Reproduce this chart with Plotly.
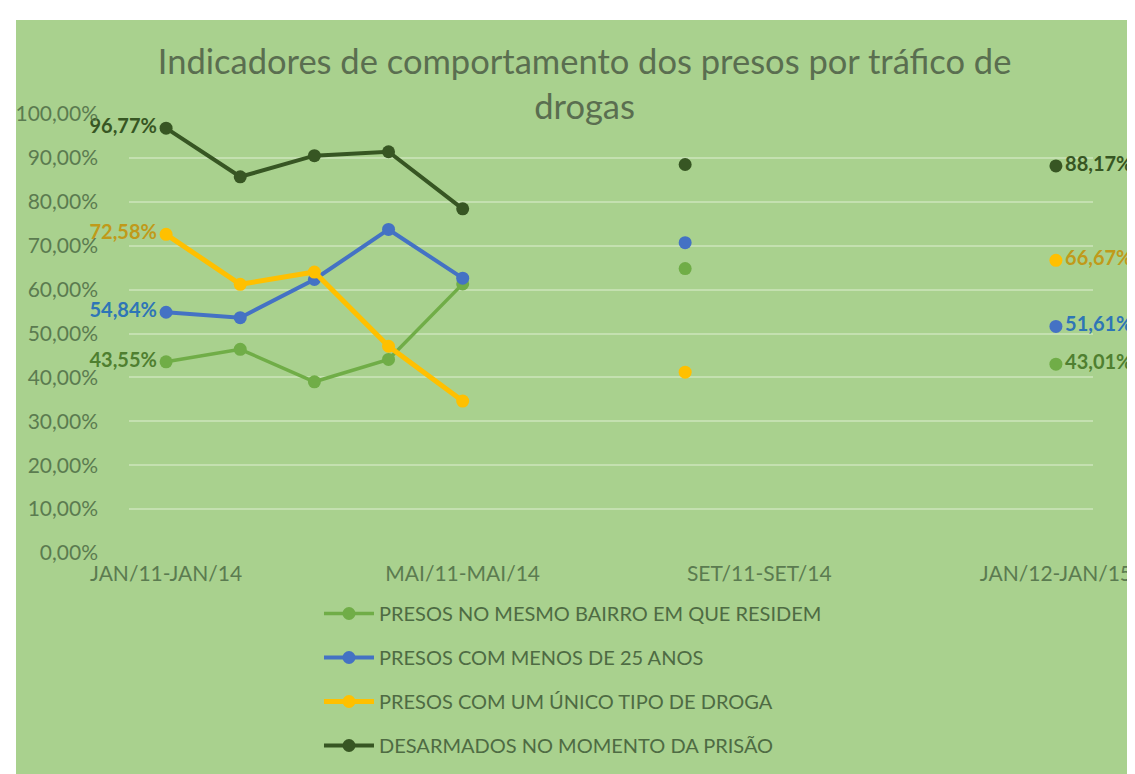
import plotly.graph_objects as go

# ---- data ----
categories = ["JAN/11-JAN/14", "FEV/11-FEV/14", "MAR/11-MAR/14", "ABR/11-ABR/14",
              "MAI/11-MAI/14", "JUN/11-JUN/14", "JUL/11-JUL/14", "AGO/11-AGO/14",
              "SET/11-SET/14", "OUT/11-OUT/14", "NOV/11-NOV/14", "DEZ/11-DEZ/14",
              "JAN/12-JAN/15"]
tick_labels = ["JAN/11-JAN/14", "MAI/11-MAI/14", "SET/11-SET/14", "JAN/12-JAN/15"]

series_names = ["PRESOS NO MESMO BAIRRO EM QUE RESIDEM",
                "PRESOS COM MENOS DE 25 ANOS",
                "PRESOS COM UM ÚNICO TIPO DE DROGA",
                "DESARMADOS NO MOMENTO DA PRISÃO"]

mesmo_bairro = [43.55, 46.4, 39.0, 44.1, 61.3, None, None, 64.8, None, None, None, None, 43.01]
menos_25 = [54.84, 53.6, 62.3, 73.7, 62.6, None, None, 70.7, None, None, None, None, 51.61]
unico_droga = [72.58, 61.2, 64.0, 47.1, 34.6, None, None, 41.2, None, None, None, None, 66.67]
desarmados = [96.77, 85.7, 90.5, 91.4, 78.4, None, None, 88.5, None, None, None, None, 88.17]

# ---- styles ----
line_colors = ["#70AD47", "#4472C4", "#FFC000", "#375623"]
label_colors = ["#4F7F30", "#2E75B6", "#C09A1A", "#375623"]
line_widths = [3.5, 4, 5, 4]
BG = "#A9D18E"
GRID = "#C4E0B0"
FONT = "Lato"
TICK_COLOR = "#5B7B50"


def fmt(v):
    return ("%.2f" % v).replace(".", ",") + "%"


def labels_for(vals):
    texts, positions = [], []
    last = len(vals) - 1
    for i, v in enumerate(vals):
        if i == 0 and v is not None:
            texts.append(fmt(v)); positions.append("middle left")
        elif i == last and v is not None:
            texts.append(fmt(v)); positions.append("middle right")
        else:
            texts.append(""); positions.append("middle center")
    return texts, positions


fig = go.Figure()
for name, vals, lc, tc, lw in zip(series_names,
                                  [mesmo_bairro, menos_25, unico_droga, desarmados],
                                  line_colors, label_colors, line_widths):
    texts, positions = labels_for(vals)
    fig.add_trace(go.Scatter(
        x=categories, y=vals, name=name, legendgroup=name,
        mode="lines+markers+text",
        line=dict(color=lc, width=lw),
        marker=dict(color=lc, size=13),
        text=texts, textposition=positions,
        textfont=dict(family=FONT, size=20, color=tc, weight="bold"),
        connectgaps=False, cliponaxis=False,
    ))

fig.update_layout(
    width=1135, height=774,
    margin=dict(l=121, r=50, t=106, b=229, autoexpand=False),
    paper_bgcolor="white",
    plot_bgcolor="rgba(0,0,0,0)",
    separators=",.",
    font=dict(family=FONT, color=TICK_COLOR),
    title=dict(
        text="Indicadores de comportamento dos presos por tráfico de<br>drogas",
        x=0.508, xref="container", xanchor="center",
        y=1 - 66 / 774, yref="container", yanchor="top",
        font=dict(family=FONT, size=34.5, color="#5A6E50"),
    ),
    showlegend=True,
    legend=dict(
        orientation="v",
        xref="container", yref="container",
        x=0.274, xanchor="left",
        y=1 - 586 / 774, yanchor="top",
        bgcolor="rgba(0,0,0,0)",
        font=dict(family=FONT, size=20, color="#4E6B43"),
        tracegroupgap=15,
        itemwidth=50,
    ),
    shapes=[dict(
        type="rect", xref="paper", yref="paper",
        x0=(8 - 121) / 964, x1=(1135 - 121) / 964,
        y0=(545 - 774) / 439, y1=(545 - 12) / 439,
        fillcolor=BG, line=dict(width=0), layer="below",
    )],
)

fig.update_xaxes(
    type="category", categoryorder="array", categoryarray=categories,
    range=[-0.5, len(categories) - 0.5],
    tickmode="array", tickvals=tick_labels, ticktext=tick_labels,
    tickangle=0, ticklabelstandoff=6,
    showgrid=False, zeroline=False, showline=False, ticks="",
    tickfont=dict(family=FONT, size=21, color=TICK_COLOR),
)
fig.update_yaxes(
    range=[0, 100], dtick=10, tickformat=".2f", ticksuffix="%",
    showgrid=True, gridcolor=GRID, gridwidth=1.5,
    zeroline=False, showline=False, ticks="",
    ticklabelstandoff=30,
    tickfont=dict(family=FONT, size=21, color=TICK_COLOR),
)

fig.write_html("out.html")
